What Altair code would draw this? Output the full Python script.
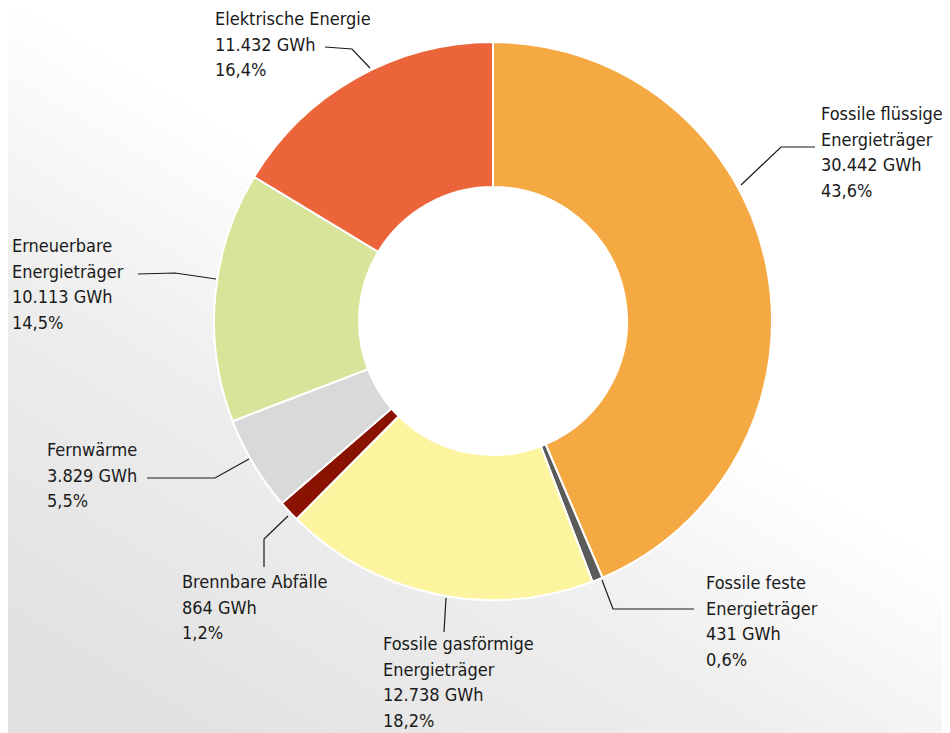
import altair as alt
import pandas as pd

# ---------------- data ----------------
categories = [
    "Fossile flüssige\nEnergieträger",
    "Fossile feste\nEnergieträger",
    "Fossile gasförmige\nEnergieträger",
    "Brennbare Abfälle",
    "Fernwärme",
    "Erneuerbare\nEnergieträger",
    "Elektrische Energie",
]
values_gwh = [30442, 431, 12738, 864, 3829, 10113, 11432]
percents = [43.6, 0.6, 18.2, 1.2, 5.5, 14.5, 16.4]
colors = ["#F5A942", "#5B5B59", "#FDF4A0", "#8A1200", "#D9D9D9", "#D9E49B", "#EC6439"]

# ---------------- layout (page pixel coords) ----------------
W, H = 934, 725
OFF = 8
CX, CY = 493, 321
R_OUT, R_IN = 279, 134
LINE_STEP = 25.7
FONT = "DejaVu Sans Condensed"

label_anchor = [  # left x, centre y of first line
    (821, 115),
    (706, 584),
    (383, 645),
    (182, 583),
    (47, 451),
    (12, 247),
    (215, 20),
]
leaders = [
    [(815, 147), (781, 147), (741, 185)],
    [(694, 609), (613, 609), (602, 580)],
    [(444, 632), (446, 598)],
    [(264, 567), (264, 539), (288, 516)],
    [(147, 478), (215, 478), (249, 459)],
    [(138, 274), (175, 273), (216, 279)],
    [(325, 47), (352, 49), (370, 68)],
]


def fmt_gwh(v):
    return f"{v:,}".replace(",", ".") + " GWh"


def fmt_pct(p):
    return f"{p:.1f}".replace(".", ",") + "%"


df = pd.DataFrame({
    "cat": categories,
    "value": values_gwh,
    "order": list(range(len(categories))),
})

rows = []
for i, (c, v, p) in enumerate(zip(categories, values_gwh, percents)):
    lines = c.split("\n") + [fmt_gwh(v), fmt_pct(p)]
    ax, ay = label_anchor[i]
    for j, t in enumerate(lines):
        rows.append({"x": ax - OFF, "y": ay - OFF + j * LINE_STEP, "text": t})
labels = pd.DataFrame(rows)

lrows = []
for i, pts in enumerate(leaders):
    for k, (px, py) in enumerate(pts):
        lrows.append({"id": i, "k": k, "x": px - OFF, "y": py - OFF})
lead = pd.DataFrame(lrows)

one = pd.DataFrame({"a": [0]})

bg = alt.Chart(one).mark_rect(
    fill=alt.LinearGradient(
        gradient="linear",
        x1=0.8, y1=0.0, x2=0.1, y2=0.9,
        stops=[
            alt.GradientStop(color="#ffffff", offset=0),
            alt.GradientStop(color="#ffffff", offset=0.42),
            alt.GradientStop(color="#eeeeee", offset=0.68),
            alt.GradientStop(color="#e2e2e2", offset=1),
        ],
    )
).encode(x=alt.value(-OFF), x2=alt.value(W + OFF), y=alt.value(-OFF), y2=alt.value(H + OFF))

hole = alt.Chart(one).mark_arc(
    innerRadius=0, outerRadius=R_IN + 2, fill="white", stroke=None
).encode(
    theta=alt.value(0),
    theta2=alt.value(6.2832),
    x=alt.value(CX - OFF),
    y=alt.value(CY - OFF),
)

arcs = alt.Chart(df).mark_arc(
    innerRadius=R_IN, outerRadius=R_OUT, stroke="white", strokeWidth=2
).encode(
    theta=alt.Theta("value:Q", stack=True),
    order=alt.Order("order:Q"),
    color=alt.Color("cat:N", scale=alt.Scale(domain=categories, range=colors), legend=None),
    x=alt.value(CX - OFF),
    y=alt.value(CY - OFF),
)

leader_lines = alt.Chart(lead).mark_line(color="#1a1a1a", strokeWidth=1.2).encode(
    x=alt.X("x:Q", scale=None, axis=None),
    y=alt.Y("y:Q", scale=None, axis=None),
    detail="id:N",
    order="k:Q",
)

texts = alt.Chart(labels).mark_text(
    align="left", baseline="middle", font=FONT, fontSize=18, color="#1a1a1a"
).encode(
    x=alt.X("x:Q", scale=None, axis=None),
    y=alt.Y("y:Q", scale=None, axis=None),
    text="text:N",
)

chart = alt.layer(bg, hole, arcs, leader_lines, texts).properties(
    width=W, height=H, padding=0, autosize=alt.AutoSizeParams(type="none")
).configure_view(stroke=None).configure(background="white")

chart.save("out.html", embed_options={"renderer": "svg", "actions": False})
